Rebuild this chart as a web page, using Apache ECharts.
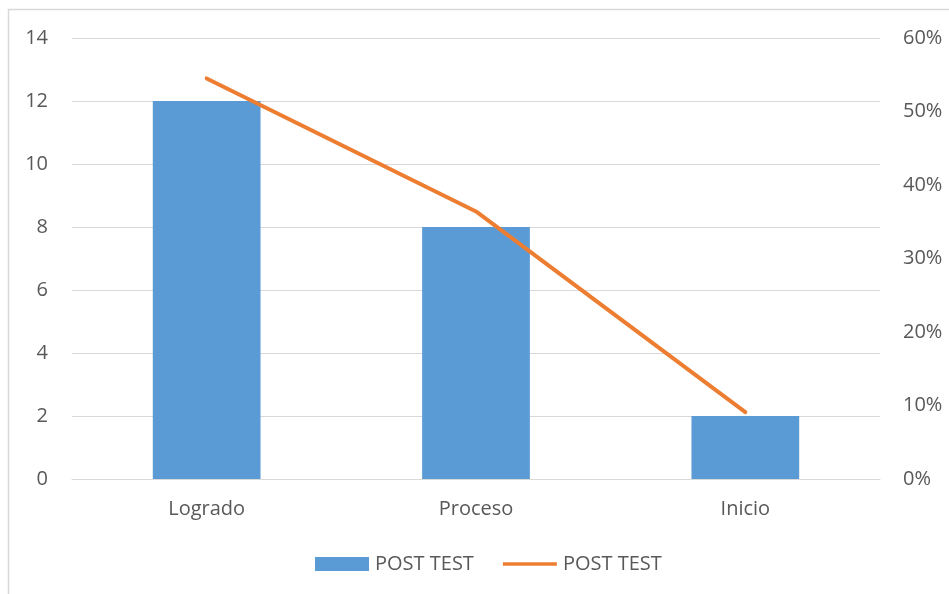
<!DOCTYPE html>
<html><head><meta charset="utf-8">
<script src="https://cdn.jsdelivr.net/npm/echarts@6/dist/echarts.min.js"></script>
<style>html,body{margin:0;padding:0;background:#fff}#c{width:949px;height:594px}</style>
</head><body><div id="c"></div>
<script>
const categories = ['Logrado', 'Proceso', 'Inicio'];
const barValues = [12, 8, 2];
const linePercent = [0.545, 0.364, 0.091];
const leftTicks = [0, 14, 2];
const rightTicks = [0, 0.6, 0.1];

const chart = echarts.init(document.getElementById('c'));
const font = '"Open Sans", Lato, sans-serif';
const txt = {color: '#595959', fontSize: 20, fontFamily: font};
chart.setOption({
  animation: false,
  graphic: [{type: 'rect', shape: {x: 8.5, y: 9.5, width: 960, height: 620}, style: {fill: 'none', stroke: '#d9d9d9', lineWidth: 1.5}, z: -10}],
  grid: {left: 72, right: 69, top: 38, bottom: 115},
  legend: {
    bottom: 20, left: 315, padding: 0, itemGap: 29, itemWidth: 54, itemHeight: 14,
    textStyle: {color: '#595959', fontSize: 20, fontFamily: font, padding: [0,0,0,1]},
    data: [{name: 'POST TEST', icon: 'rect'}, {name: 'POST TEST ', icon: 'path://M0,0 L60,0 L60,4 L0,4 Z'}]
  },
  xAxis: {
    type: 'category', data: categories,
    axisLine: {lineStyle: {color: '#d9d9d9'}}, axisTick: {show: false},
    axisLabel: Object.assign({margin: 20}, txt)
  },
  yAxis: [{
    type: 'value', min: leftTicks[0], max: leftTicks[1], interval: leftTicks[2],
    axisLine: {show: false}, axisTick: {show: false},
    axisLabel: Object.assign({margin: 24}, txt),
    splitLine: {lineStyle: {color: '#d9d9d9', width: 1}}
  }, {
    type: 'value', min: rightTicks[0], max: rightTicks[1], interval: rightTicks[2],
    axisLine: {show: false}, axisTick: {show: false},
    axisLabel: Object.assign({margin: 23, formatter: v => Math.round(v*100) + '%'}, txt),
    splitLine: {show: false}
  }],
  series: [{
    name: 'POST TEST', type: 'bar', data: barValues, barWidth: '40%',
    itemStyle: {color: '#5B9BD5'}
  }, {
    name: 'POST TEST ', type: 'line', yAxisIndex: 1, data: linePercent,
    symbol: 'none', lineStyle: {color: '#ED7D31', width: 4, cap: 'round'},
    itemStyle: {color: '#ED7D31'}
  }]
});
</script></body></html>
